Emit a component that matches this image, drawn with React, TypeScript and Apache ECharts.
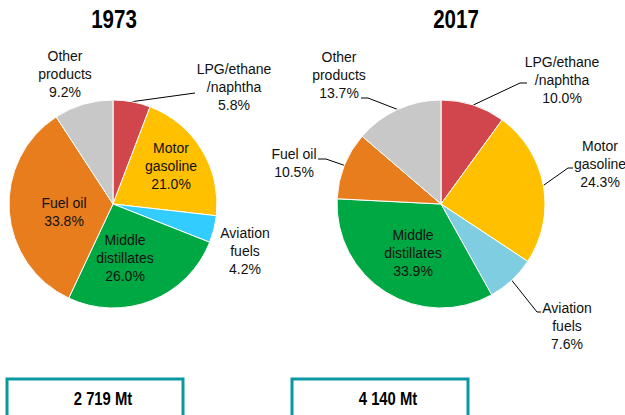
import React, { useEffect, useRef } from 'react';
import * as echarts from 'echarts';

const categories = ['LPG/ethane\n/naphtha', 'Motor\ngasoline', 'Aviation\nfuels', 'Middle\ndistillates', 'Fuel oil', 'Other\nproducts'];
const values1973 = [5.8, 21.0, 4.2, 26.0, 33.8, 9.2];
const values2017 = [10.0, 24.3, 7.6, 33.9, 10.5, 13.7];
const years = ['1973', '2017'];
const totals = ['2 719 Mt', '4 140 Mt'];

const FONT = '"Liberation Sans Narrow", "Arial Narrow", "Liberation Sans", Arial, sans-serif';

const colors1973 = ['#D0464C', '#FFC000', '#33CCFF', '#00A843', '#E87D1E', '#C8C8C8'];
const colors2017 = ['#D0464C', '#FFC000', '#7ECDE1', '#00A843', '#E87D1E', '#C8C8C8'];

type LabelPos = { x: number; y: number; line?: [number, number][] };

// label layout (center of the label block, and leader line elbow/end)
const layout1973: LabelPos[] = [
  { x: 234, y: 87, line: [[195, 93], [195, 93]] },
  { x: 171, y: 166 },
  { x: 245, y: 251 },
  { x: 125, y: 258 },
  { x: 64, y: 212 },
  { x: 65, y: 74 },
];
const layout2017: LabelPos[] = [
  { x: 562, y: 80, line: [[520, 83], [527, 83]] },
  { x: 600, y: 164, line: [[568, 168], [573, 168]] },
  { x: 567, y: 326, line: [[537, 312], [541, 312]] },
  { x: 413, y: 253 },
  { x: 294, y: 163, line: [[326, 159], [318, 159]] },
  { x: 339, y: 75, line: [[368, 98], [361, 98]] },
];

function makeSeries(values: number[], colors: string[], center: [number, number], lay: LabelPos[]) {
  return {
    type: 'pie',
    center,
    radius: 104,
    startAngle: 90,
    clockwise: true,
    avoidLabelOverlap: false,
    itemStyle: { borderColor: '#ffffff', borderWidth: 1 },
    label: {
      show: true,
      position: 'outside',
      fontFamily: FONT,
      fontSize: 14,
      lineHeight: 18,
      color: '#111',
      width: 150,
      overflow: 'none',
      formatter: (p: any) => `${p.name}\n${p.value.toFixed(1)}%`,
    },
    labelLine: { show: true, length: 10, length2: 10, smooth: false, lineStyle: { color: '#000', width: 1 } },
    emphasis: { disabled: true },
    labelLayout: (params: any) => {
      const l = lay[params.dataIndex];
      const res: any = { x: l.x, y: l.y, align: 'center', verticalAlign: 'middle' };
      if (l.line && params.labelLinePoints) {
        res.labelLinePoints = [params.labelLinePoints[0], l.line[0], l.line[1]];
      }
      return res;
    },
    data: values.map((v, i) => ({
      name: categories[i],
      value: v,
      itemStyle: { color: colors[i] },
      labelLine: { show: !!lay[i].line },
    })),
  };
}

const textStyle = (text: string, font: string) => ({
  text,
  font,
  fill: '#000',
  align: 'center',
  verticalAlign: 'middle',
  textAlign: 'center',
  textVerticalAlign: 'middle',
});

export default function App() {
  const ref = useRef<HTMLDivElement>(null);
  useEffect(() => {
    document.body.style.margin = '0';
    const chart = echarts.init(ref.current!, undefined, { renderer: 'svg' });
    const boxes = [
      { x: 7, cx: 103 },
      { x: 292, cx: 388 },
    ];
    const titleX = [114, 456];
    chart.setOption({
      animation: false,
      backgroundColor: '#ffffff',
      series: [
        makeSeries(values1973, colors1973, [113, 204], layout1973),
        makeSeries(values2017, colors2017, [441, 204], layout2017),
      ],
      graphic: [
        ...years.map((y, i) => ({ type: 'text', x: titleX[i], y: 19, scaleX: 0.82, style: textStyle(y, `bold 25px ${FONT}`) })),
        ...boxes.map((b) => ({ type: 'rect', shape: { x: b.x, y: 379, width: 176, height: 60 }, style: { fill: '#fff', stroke: '#0A99A3', lineWidth: 3 } })),
        ...boxes.map((b, i) => ({ type: 'text', x: b.cx, y: 399, scaleX: 0.78, style: textStyle(totals[i], `bold 19px ${FONT}`) })),
      ],
    });
    return () => chart.dispose();
  }, []);
  return <div ref={ref} style={{ position: 'absolute', left: 0, top: 0, width: 625, height: 415 }} />;
}
